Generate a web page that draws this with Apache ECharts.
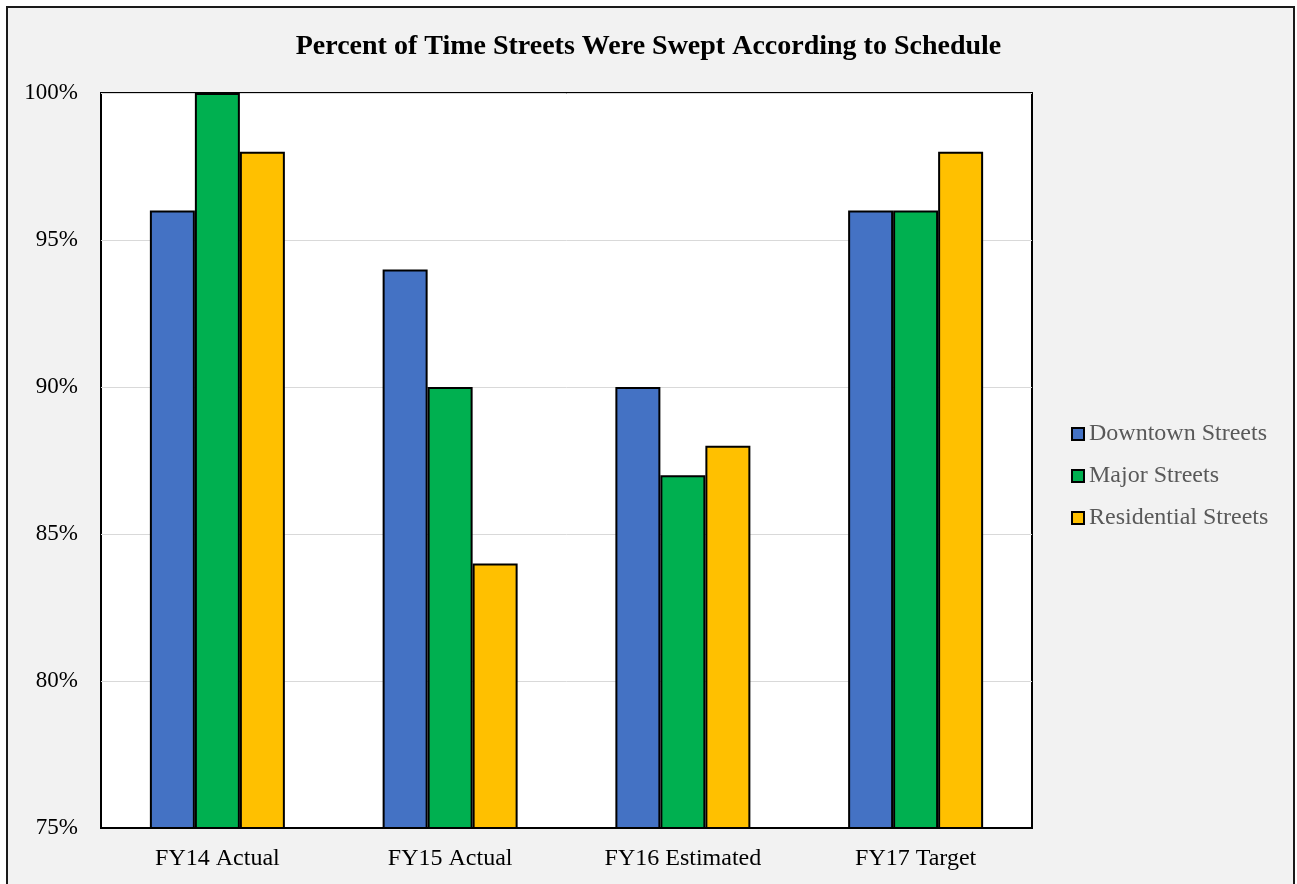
<!DOCTYPE html>
<html>
<head>
<meta charset="utf-8">
<script src="https://cdn.jsdelivr.net/npm/echarts@6/dist/echarts.min.js"></script>
<style>
  html, body { margin: 0; padding: 0; background: #ffffff; }
  #chart { width: 1297px; height: 884px; }
</style>
</head>
<body>
<div id="chart"></div>
<script>
// Fiscal-year categories and sweeping performance per street type (percent)
const categories = ['FY14 Actual', 'FY15 Actual', 'FY16 Estimated', 'FY17 Target'];
const downtownStreets = [96, 94, 90, 96];
const majorStreets = [100, 90, 87, 96];
const residentialStreets = [98, 84, 88, 98];
const seriesNames = ['Downtown Streets', 'Major Streets', 'Residential Streets'];
const seriesColors = ['#4472c4', '#00b050', '#ffc000'];

const serif = '"Liberation Serif", "Times New Roman", serif';
const chart = echarts.init(document.getElementById('chart'), null, { renderer: 'canvas' });

function barSeries(name, data, color) {
  return {
    name: name,
    type: 'bar',
    data: data,
    barGap: '0%',
    barCategoryGap: '42%',
    itemStyle: { color: color, borderColor: '#000000', borderWidth: 2 },
    emphasis: { disabled: true }
  };
}

chart.setOption({
  animation: false,
  backgroundColor: '#ffffff',
  graphic: [
    {
      type: 'rect',
      z: -10,
      silent: true,
      shape: { x: 7, y: 7, width: 1287, height: 900 },
      style: { fill: '#f2f2f2', stroke: '#1a1a1a', lineWidth: 2 }
    }
  ],
  title: {
    text: 'Percent of Time Streets Were Swept According to Schedule',
    left: 'center',
    top: 28,
    textStyle: { fontFamily: serif, fontSize: 28, fontWeight: 'bold', color: '#000000' }
  },
  legend: {
    orient: 'vertical',
    left: 1066,
    top: 417,
    itemWidth: 12,
    itemHeight: 12,
    itemGap: 18,
    icon: 'rect',
    data: seriesNames,
    itemStyle: { borderColor: '#000000', borderWidth: 2 },
    textStyle: { fontFamily: serif, fontSize: 24, color: '#595959' }
  },
  grid: {
    left: 101,
    right: 265,
    top: 93,
    bottom: 56,
    show: true,
    backgroundColor: '#ffffff',
    borderColor: '#000000',
    borderWidth: 2
  },
  xAxis: {
    type: 'category',
    data: categories,
    axisLine: { show: true, lineStyle: { color: '#000000', width: 2 } },
    axisTick: { show: false },
    axisLabel: { fontFamily: serif, fontSize: 24, color: '#000000', margin: 19 }
  },
  yAxis: {
    type: 'value',
    min: 75,
    max: 100,
    interval: 5,
    axisLine: { show: false },
    axisTick: { show: false },
    splitLine: { lineStyle: { color: '#d9d9d9', width: 1 } },
    axisLabel: {
      fontFamily: serif, fontSize: 23, color: '#000000', margin: 23,
      formatter: v => v + '%'
    }
  },
  series: [
    barSeries(seriesNames[0], downtownStreets, seriesColors[0]),
    barSeries(seriesNames[1], majorStreets, seriesColors[1]),
    barSeries(seriesNames[2], residentialStreets, seriesColors[2])
  ]
});
</script>
</body>
</html>
